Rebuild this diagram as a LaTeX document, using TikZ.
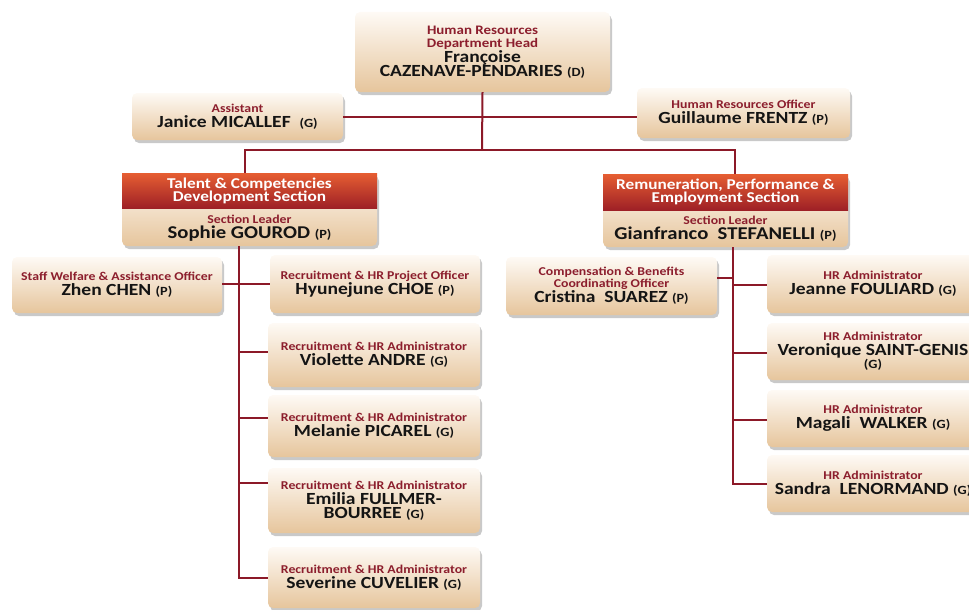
\documentclass[tikz,border=0pt]{standalone}
\usepackage{fontspec}
\setmainfont{Carlito}[FakeStretch=1.15]
\usetikzlibrary{shadows}
\definecolor{cardtop}{RGB}{254,250,245}
\definecolor{cardbot}{RGB}{230,197,156}
\definecolor{ttlred}{RGB}{140,30,45}
\definecolor{ink}{RGB}{20,20,20}
\definecolor{redtop}{RGB}{230,94,50}
\definecolor{redbot}{RGB}{158,32,38}
\definecolor{wire}{RGB}{140,25,40}
\newcommand{\rtitle}[1]{{\color{ttlred}\fontsize{12}{11}\selectfont #1}}
\newcommand{\grd}[1]{{\fontsize{12.5}{11}\selectfont #1}}
\tikzset{
  card/.style={rounded corners=5pt, top color=cardtop, bottom color=cardbot, draw=none,
    drop shadow={shadow xshift=2pt, shadow yshift=-3pt, opacity=0.3, fill=black!70},
    align=center, inner sep=0pt, text=ink,
    font=\bfseries\fontsize{17}{15}\selectfont},
  redhead/.style={top color=redtop, bottom color=redbot, draw=none, align=center,
    inner sep=0pt, text=white, font=\bfseries\fontsize{15}{13}\selectfont},
  leader/.style={align=center, inner sep=0pt, text=ink, font=\bfseries\fontsize{18}{15}\selectfont},
  wire/.style={draw=wire, line width=2pt},
}
\begin{document}
\begin{tikzpicture}[x=1pt,y=1pt]
\useasboundingbox (0,0) rectangle (969,-610);
\clip (0,0) rectangle (969,-610);
% top
\node[card, minimum width=255pt, minimum height=80pt] (head) at (482.5,-52)
  {\rtitle{\fontsize{13}{12}\selectfont Human Resources}\\[-2pt]\rtitle{\fontsize{13}{12}\selectfont Department Head}\\[0pt]Françoise\\[-1pt]CAZENAVE-PENDARIES \grd{(D)}};
\node[card, minimum width=211pt, minimum height=47pt] (asst) at (237.5,-116.5)
  {\rtitle{Assistant}\\Janice MICALLEF \ \grd{(G)}};
\node[card, minimum width=213pt, minimum height=50pt] (hro) at (743.5,-113)
  {\rtitle{Human Resources Officer}\\Guillaume FRENTZ \grd{(P)}};
% sections
\node[card, minimum width=255pt, minimum height=73pt] (talent) at (249.5,-209.5) {};
\node[redhead, minimum width=255pt, minimum height=35pt] (talenthd) at (249.5,-190.5)
  {Talent \& Competencies\\Development Section};
\node[leader] (talentld) at (249.5,-228)
  {\rtitle{\fontsize{12}{11}\selectfont Section Leader}\\Sophie GOUROD \grd{(P)}};
\node[card, minimum width=245pt, minimum height=73pt] (rem) at (725.5,-210.5) {};
\node[redhead, minimum width=245pt, minimum height=36pt] (remhd) at (725.5,-192)
  {Remuneration, Performance \&\\Employment Section};
\node[leader] (remld) at (725.5,-229)
  {\rtitle{\fontsize{12}{11}\selectfont Section Leader}\\Gianfranco \ STEFANELLI \grd{(P)}};
% left branch
\node[card, minimum width=210pt, minimum height=56pt] (zhen) at (117,-285)
  {\rtitle{Staff Welfare \& Assistance Officer}\\Zhen CHEN \grd{(P)}};
\node[card, minimum width=210pt, minimum height=58pt] (hyun) at (375,-284)
  {\rtitle{Recruitment \& HR Project Officer}\\Hyunejune CHOE \grd{(P)}};
\node[card, minimum width=212pt, minimum height=64pt] (viol) at (374,-355)
  {\rtitle{Recruitment \& HR Administrator}\\Violette ANDRE \grd{(G)}};
\node[card, minimum width=212pt, minimum height=62pt] (mel) at (374,-426)
  {\rtitle{Recruitment \& HR Administrator}\\Melanie PICAREL \grd{(G)}};
\node[card, minimum width=212pt, minimum height=65pt] (emi) at (374,-500.5)
  {\rtitle{Recruitment \& HR Administrator}\\Emilia FULLMER-\\[-1pt]BOURREE \grd{(G)}};
\node[card, minimum width=212pt, minimum height=61pt] (sev) at (374,-577.5)
  {\rtitle{Recruitment \& HR Administrator}\\Severine CUVELIER \grd{(G)}};
% right branch
\node[card, minimum width=211pt, minimum height=58pt] (cris) at (611.5,-286)
  {\rtitle{Compensation \& Benefits}\\[-3pt]\rtitle{Coordinating Officer}\\Cristina \ SUAREZ \grd{(P)}};
\node[card, minimum width=212pt, minimum height=58pt] (jean) at (873,-284)
  {\rtitle{HR Administrator}\\Jeanne FOULIARD \grd{(G)}};
\node[card, minimum width=212pt, minimum height=57pt] (ver) at (873,-351.5)
  {\rtitle{HR Administrator}\\Veronique SAINT-GENIS\\[-2pt]\grd{(G)}};
\node[card, minimum width=212pt, minimum height=57pt] (mag) at (873,-418.5)
  {\rtitle{HR Administrator}\\Magali \ WALKER \grd{(G)}};
\node[card, minimum width=212pt, minimum height=57pt] (san) at (873,-483.5)
  {\rtitle{HR Administrator}\\Sandra \ LENORMAND \grd{(G)}};
% connectors
\coordinate (hj) at (482,-150);
\draw[wire] (head.south) -- (hj);
\draw[wire] (asst.east |- 0,-117) -- (hro.west |- 0,-117);
\coordinate (lj) at (245,-150);
\coordinate (rj) at (735,-150);
\draw[wire] (talenthd.north -| lj) -- (lj) -- (rj) -- (remhd.north -| rj);
\coordinate (lv) at (239,-246);
\draw[wire] (lv) |- (sev.west);
\draw[wire] (zhen.east |- 0,-284) -- (hyun.west |- 0,-284);
\draw[wire] (lv |- 0,-352) -- (viol.west |- 0,-352);
\draw[wire] (lv |- 0,-418) -- (mel.west |- 0,-418);
\draw[wire] (lv |- 0,-483) -- (emi.west |- 0,-483);
\coordinate (rv) at (733,-247);
\draw[wire] (rv) |- (san.west);
\draw[wire] (cris.east |- 0,-278) -- (rv |- 0,-278);
\draw[wire] (rv |- 0,-285) -- (jean.west |- 0,-285);
\draw[wire] (rv |- 0,-353) -- (ver.west |- 0,-353);
\draw[wire] (rv |- 0,-420) -- (mag.west |- 0,-420);
\end{tikzpicture}
\end{document}
